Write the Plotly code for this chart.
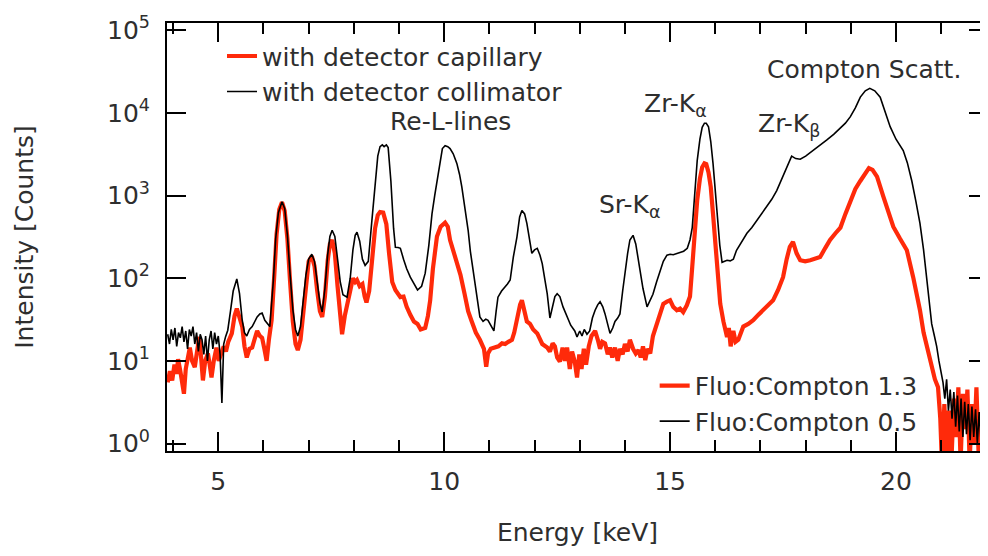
import plotly.graph_objects as go

# ---- data ----
energy_collimator = [
    3.88, 3.92, 3.96, 4.00, 4.04, 4.08, 4.12, 4.16, 4.20, 4.24,
    4.28, 4.32, 4.36, 4.40, 4.44, 4.48, 4.52, 4.56, 4.60, 4.64,
    4.68, 4.72, 4.76, 4.80, 4.84, 4.88, 4.92, 4.96, 5.00, 5.04,
    5.08, 5.12, 5.16, 5.21, 5.27, 5.33, 5.41, 5.47, 5.53, 5.58,
    5.63, 5.69, 5.75, 5.80, 5.86, 5.92, 5.97, 6.03, 6.09, 6.14,
    6.22, 6.27, 6.33, 6.41, 6.47, 6.53, 6.59, 6.65, 6.71, 6.76,
    6.82, 6.88, 6.94, 7.00, 7.07, 7.13, 7.19, 7.25, 7.30, 7.36,
    7.42, 7.47, 7.52, 7.58, 7.64, 7.70, 7.76, 7.85, 7.92, 7.98,
    8.03, 8.07, 8.13, 8.19, 8.25, 8.32, 8.40, 8.47, 8.53, 8.58,
    8.63, 8.67, 8.72, 8.76, 8.82, 8.88, 8.92, 8.98, 9.03, 9.10,
    9.17, 9.25, 9.33, 9.41, 9.50, 9.58, 9.66, 9.73, 9.79, 9.84,
    9.90, 9.96, 10.02, 10.08, 10.13, 10.20, 10.28, 10.34, 10.39, 10.46,
    10.53, 10.58, 10.64, 10.72, 10.79, 10.86, 10.92, 10.97, 11.03, 11.10,
    11.15, 11.19, 11.27, 11.35, 11.40, 11.46, 11.53, 11.61, 11.67, 11.72,
    11.78, 11.83, 11.89, 11.94, 12.00, 12.06, 12.12, 12.17, 12.23, 12.28,
    12.34, 12.40, 12.45, 12.50, 12.56, 12.63, 12.72, 12.80, 12.89, 12.94,
    13.00, 13.05, 13.10, 13.16, 13.22, 13.28, 13.34, 13.40, 13.45, 13.51,
    13.56, 13.62, 13.67, 13.73, 13.78, 13.84, 13.89, 13.95, 14.00, 14.06,
    14.11, 14.18, 14.24, 14.33, 14.40, 14.49, 14.55, 14.62, 14.70, 14.78,
    14.85, 14.93, 15.00, 15.07, 15.15, 15.22, 15.30, 15.38, 15.44, 15.49,
    15.55, 15.60, 15.66, 15.71, 15.76, 15.80, 15.85, 15.90, 15.95, 16.00,
    16.06, 16.10, 16.15, 16.20, 16.26, 16.33, 16.40, 16.47, 16.58, 16.70,
    16.81, 16.92, 17.03, 17.14, 17.25, 17.36, 17.47, 17.58, 17.64, 17.69,
    17.78, 17.88, 18.00, 18.17, 18.32, 18.47, 18.62, 18.77, 18.88, 18.99,
    19.10, 19.21, 19.32, 19.42, 19.53, 19.65, 19.76, 19.87, 20.00, 20.16,
    20.25, 20.35, 20.44, 20.53, 20.61, 20.68, 20.74, 20.79, 20.85, 20.90,
    20.95, 21.00, 21.04, 21.08, 21.12, 21.16, 21.20, 21.24, 21.28, 21.32,
    21.36, 21.40, 21.44, 21.48, 21.52, 21.56, 21.60, 21.64, 21.68, 21.72,
    21.76, 21.80, 21.84, 21.88, 21.92, 21.96, 22.00, 22.04,
]
counts_collimator = [
    21, 16, 24, 18, 25, 15, 22, 19, 26, 17,
    23, 14, 24, 20, 26, 16, 22, 13, 21, 18,
    12, 20, 10, 18, 23, 14, 22, 16, 20, 12,
    3.1, 16, 19.5, 23.5, 40, 70, 98, 65, 31, 22,
    20, 24, 26, 30, 34, 37, 38, 31, 28, 26,
    95, 300, 620, 840, 700, 330, 110, 42, 24, 20,
    26, 50, 110, 170, 195, 160, 90, 50, 39, 75,
    190, 320, 380, 320, 170, 90, 63, 59, 100, 220,
    330, 360, 280, 170, 143, 160, 500, 1500, 3000, 3900,
    4100, 3900, 4100, 3800, 1500, 400, 237, 235, 230, 170,
    130, 103, 85, 72, 80, 115, 250, 600, 1000, 1500,
    2600, 3700, 4000, 3900, 3700, 3200, 2450, 1800, 1270, 700,
    380, 210, 125, 60, 34, 30, 32, 31, 27, 23,
    40, 59, 70, 78, 85, 95, 180, 315, 550, 660,
    600, 460, 280, 200, 220, 230, 190, 150, 95, 65,
    33, 45, 60, 65, 60, 45, 34, 27, 23, 19.5,
    23, 20, 24, 21, 23, 33, 41, 48, 52, 45,
    37, 28, 21.5, 25, 30, 33, 37, 70, 115, 200,
    290, 330, 260, 137, 75, 45, 52, 64, 90, 125,
    160, 190, 195, 192, 200, 205, 212, 230, 290, 410,
    1000, 2650, 4800, 6700, 7500, 7500, 6800, 4500, 2450, 1100,
    500, 250, 156, 160, 165, 162, 170, 218, 270, 350,
    410, 500, 600, 730, 900, 1150, 1600, 2240, 2700, 3000,
    2800, 2750, 3000, 3500, 4000, 4700, 5500, 6500, 7500, 9000,
    11500, 15500, 18500, 19800, 18500, 15500, 10000, 6800, 4800, 3500,
    2500, 1500, 850, 460, 220, 103, 50, 28, 20, 15,
    10, 7, 5.5, 3.5, 6, 2.5, 4.5, 2, 4.2, 1.6,
    3.8, 1.4, 3.5, 1.2, 3.2, 1.3, 3, 1.1, 2.8, 1.2,
    2.6, 1.0, 2.4, 1.1, 2.2, 1.0, 1.8, 1.1,
]

energy_capillary = [
    3.88, 3.93, 3.98, 4.03, 4.08, 4.11, 4.16, 4.21, 4.24, 4.28,
    4.33, 4.37, 4.42, 4.48, 4.53, 4.58, 4.62, 4.66, 4.71, 4.77,
    4.81, 4.85, 4.90, 4.96, 5.01, 5.07, 5.12, 5.17, 5.22, 5.30,
    5.36, 5.41, 5.47, 5.53, 5.58, 5.63, 5.69, 5.75, 5.80, 5.86,
    5.92, 5.97, 6.02, 6.07, 6.12, 6.18, 6.24, 6.29, 6.35, 6.41,
    6.47, 6.53, 6.59, 6.65, 6.71, 6.76, 6.82, 6.88, 6.94, 7.00,
    7.07, 7.13, 7.19, 7.25, 7.30, 7.36, 7.42, 7.47, 7.52, 7.58,
    7.64, 7.70, 7.74, 7.80, 7.86, 7.92, 7.98, 8.03, 8.07, 8.13,
    8.19, 8.24, 8.28, 8.34, 8.40, 8.47, 8.53, 8.58, 8.65, 8.72,
    8.78, 8.85, 8.92, 8.98, 9.03, 9.10, 9.17, 9.25, 9.33, 9.41,
    9.48, 9.58, 9.64, 9.69, 9.75, 9.84, 9.92, 10.02, 10.08, 10.13,
    10.20, 10.28, 10.36, 10.45, 10.53, 10.60, 10.70, 10.79, 10.88, 10.93,
    10.97, 11.03, 11.10, 11.20, 11.28, 11.35, 11.42, 11.50, 11.55, 11.62,
    11.68, 11.72, 11.77, 11.83, 11.90, 11.97, 12.06, 12.12, 12.17, 12.28,
    12.34, 12.40, 12.45, 12.50, 12.56, 12.62, 12.67, 12.72, 12.78, 12.83,
    12.89, 12.94, 12.99, 13.04, 13.09, 13.14, 13.20, 13.26, 13.34, 13.40,
    13.45, 13.50, 13.56, 13.62, 13.67, 13.72, 13.78, 13.84, 13.89, 13.95,
    14.00, 14.06, 14.11, 14.18, 14.24, 14.30, 14.35, 14.40, 14.45, 14.50,
    14.56, 14.62, 14.70, 14.78, 14.85, 14.93, 15.00, 15.07, 15.15, 15.22,
    15.29, 15.37, 15.44, 15.49, 15.55, 15.60, 15.66, 15.71, 15.76, 15.80,
    15.85, 15.90, 15.95, 16.01, 16.06, 16.11, 16.18, 16.26, 16.30, 16.34,
    16.40, 16.45, 16.51, 16.56, 16.62, 16.73, 16.84, 16.95, 17.06, 17.17,
    17.28, 17.39, 17.50, 17.58, 17.65, 17.72, 17.80, 17.88, 17.99, 18.10,
    18.21, 18.32, 18.43, 18.54, 18.66, 18.77, 18.88, 18.99, 19.10, 19.21,
    19.32, 19.40, 19.48, 19.58, 19.72, 19.84, 19.94, 20.09, 20.24, 20.38,
    20.46, 20.53, 20.61, 20.69, 20.75, 20.80, 20.86, 20.93, 20.98, 21.02,
    21.07, 21.12, 21.17, 21.22, 21.28, 21.33, 21.38, 21.43, 21.48, 21.53,
    21.58, 21.63, 21.68, 21.73, 21.78, 21.83, 21.88, 21.93, 21.98, 22.03,
]
counts_capillary = [
    5.5, 7.5, 5.8, 9, 7, 10.5, 7.5, 4.8, 4.0, 8,
    12, 14.5, 10, 8.4, 13, 19.5, 11, 5.8, 10, 12.3,
    9, 6.3, 10, 14.5, 10, 12.3, 15, 13, 17, 21.5,
    35, 43, 34, 26, 15, 11, 14, 14.5, 18, 23,
    20, 19, 14, 10, 18, 31, 110, 340, 680, 830,
    650, 300, 90, 30, 16, 13.5, 18, 38, 90, 160,
    185, 140, 70, 40, 34, 60, 160, 260, 290, 200,
    80, 30, 21, 35, 50, 80, 100, 90, 95, 80,
    85, 60, 51, 70, 180, 400, 580, 630, 620, 450,
    200, 90, 72, 65, 59, 60, 45, 36, 30, 28,
    24, 25, 35, 54, 130, 320, 420, 470, 420, 290,
    220, 165, 110, 65, 40, 31, 22, 18, 14, 8.5,
    12.3, 14, 14.5, 15, 16.3, 16, 17, 18, 22, 35,
    48, 54, 40, 30, 28, 24, 21.5, 18, 16, 14.5,
    13, 16.3, 15, 11, 9.8, 14.5, 10, 14.5, 8, 13,
    9.8, 6.3, 12, 8, 14, 9, 15, 20, 23, 18,
    14, 17, 16.3, 12, 14.5, 11, 14.5, 10, 14, 12,
    16, 13, 18, 14, 12.3, 13.5, 11, 15, 10.2, 14,
    12.3, 20, 28, 38, 49, 52, 54, 45, 41, 43,
    39, 47, 60, 137, 400, 880, 1600, 2200, 2450, 2400,
    1900, 1270, 600, 215, 90, 49, 30, 19.5, 25, 15,
    23, 17, 18, 22, 26, 28, 31, 36, 41, 47,
    54, 72, 103, 170, 240, 275, 200, 165, 160, 165,
    170, 180, 230, 290, 350, 410, 600, 850, 1200, 1500,
    1900, 2150, 2050, 1690, 970, 600, 420, 300, 218, 103,
    65, 41, 22, 14.5, 10, 8.5, 6, 4.8, 2, 0.5,
    3, 0.6, 2.5, 0.5, 3.5, 1.2, 4.8, 0.6, 4, 1.5,
    4.5, 0.6, 3, 1, 4.8, 0.7, 2, 0.8, 1.6, 0.9,
]

y_tick_values = [1, 10, 100, 1000, 10000, 100000]
y_tick_labels = ["10<sup>0</sup>", "10<sup>1</sup>", "10<sup>2</sup>",
                 "10<sup>3</sup>", "10<sup>4</sup>", "10<sup>5</sup>"]

name_capillary = "with detector capillary"
name_collimator = "with detector collimator"
ratio_capillary = "Fluo:Compton 1.3"
ratio_collimator = "Fluo:Compton 0.5"

peak_labels = ["Re-L-lines", "Sr-K<sub>α</sub>", "Zr-K<sub>α</sub>",
               "Zr-K<sub>β</sub>", "Compton Scatt."]
peak_label_energy = [10.15, 14.11, 15.11, 17.63, 19.30]
peak_label_log = [3.89, 2.87, 4.09, 3.85, 4.52]

RED = "#ff2a0a"
BLACK = "#000000"
FONT = "DejaVu Sans"
TXT = "#2e2e2e"

fig = go.Figure()
fig.add_trace(go.Scatter(x=energy_capillary, y=counts_capillary, mode="lines",
                         name=name_capillary, line=dict(color=RED, width=4.2),
                         legend="legend"))
fig.add_trace(go.Scatter(x=energy_collimator, y=counts_collimator, mode="lines",
                         name=name_collimator, line=dict(color=BLACK, width=1.6),
                         legend="legend"))
# entries of the second legend
fig.add_trace(go.Scatter(x=[None], y=[None], mode="lines", name=ratio_capillary,
                         line=dict(color=RED, width=4.2), legend="legend2"))
fig.add_trace(go.Scatter(x=[None], y=[None], mode="lines", name=ratio_collimator,
                         line=dict(color=BLACK, width=1.6), legend="legend2"))

for txt, ex, ly in zip(peak_labels, peak_label_energy, peak_label_log):
    fig.add_annotation(x=ex, y=ly, xref="x", yref="y", text=txt, showarrow=False,
                       font=dict(family=FONT, size=25, color=TXT))

axis_common = dict(showline=True, linecolor=BLACK, linewidth=2, mirror="ticks",
                   ticks="inside", tickcolor=BLACK, tickwidth=1.5, ticklen=19,
                   showgrid=False, zeroline=False,
                   tickfont=dict(family=FONT, size=25, color=TXT),
                   automargin=False)

# page body has an 8px margin, so the figure is sized to fit inside the window
fig.update_layout(
    width=980, height=548,
    margin=dict(l=159, r=0, t=15, b=105),
    paper_bgcolor="white", plot_bgcolor="white",
    font=dict(family=FONT, size=25, color=TXT),
    xaxis=dict(range=[3.865, 22.036], tick0=0, dtick=5,
               minor=dict(dtick=1, ticks="inside", ticklen=11, tickwidth=1.5,
                          tickcolor=BLACK, showgrid=False),
               ticklabelstandoff=7,
               title=dict(text="Energy [keV]", standoff=28,
                          font=dict(family=FONT, size=25, color=TXT)),
               **axis_common),
    yaxis=dict(type="log", range=[-0.09, 5.087], tickmode="array",
               tickvals=y_tick_values, ticktext=y_tick_labels,
               ticklabelstandoff=10,
               title=dict(text="Intensity [Counts]", standoff=66,
                          font=dict(family=FONT, size=25, color=TXT)),
               **axis_common),
    legend=dict(x=0.067, y=0.976, xanchor="left", yanchor="top",
                bgcolor="rgba(0,0,0,0)", borderwidth=0,
                font=dict(family=FONT, size=25, color=TXT), tracegroupgap=0),
    legend2=dict(x=0.594, y=0.206, xanchor="left", yanchor="top",
                 bgcolor="rgba(0,0,0,0)", borderwidth=0,
                 font=dict(family=FONT, size=25, color=TXT), tracegroupgap=0),
    showlegend=True,
)

fig.write_html("out.html")
